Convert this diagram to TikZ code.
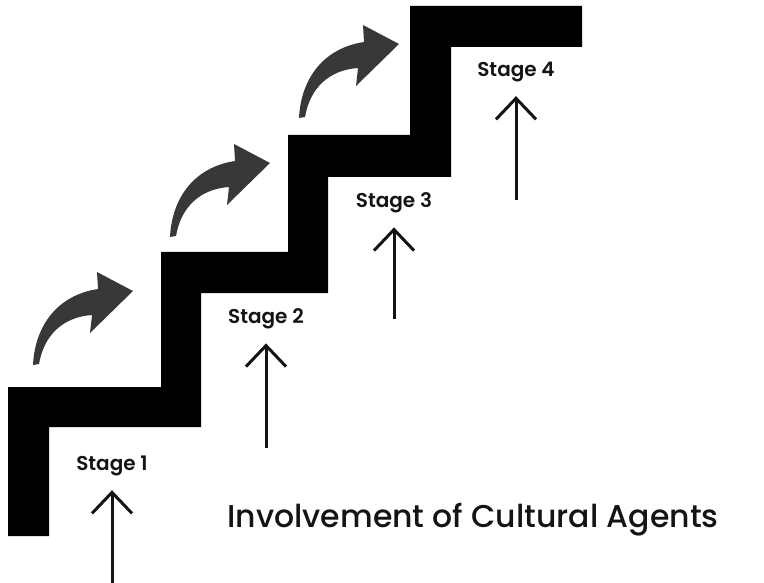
\documentclass[tikz,border=0pt]{standalone}
\usepackage{fontspec}
\setmainfont{Poppins}
\newfontfamily\stagefont{Poppins SemiBold}
\newfontfamily\titlefont{Poppins Medium}
\usetikzlibrary{arrows.meta}
\definecolor{curvegray}{HTML}{383838}
\definecolor{inkblack}{HTML}{141414}
\tikzset{every picture/.style={>={Straight Barb[length=21pt,width=40pt]}},
  stage/.style={font=\stagefont\fontsize{20}{22}\selectfont,text=inkblack,inner sep=0pt},
  rise/.style={->,line width=3pt,draw=inkblack,shorten >=14pt},
  bend/.pic={\fill[curvegray] (0,0) .. controls (2,-40) and (25,-70) .. (65,-76)
    -- (64,-93) -- (100,-74) -- (57,-32) -- (59,-50)
    .. controls (30,-48) and (11,-30) .. (6,-1) -- cycle;}}

\begin{document}
\begin{tikzpicture}[x=1pt,y=-1pt]
  \useasboundingbox (0,0) rectangle (764,583);
  \fill[black] (8,536) -- (8,387) -- (161,387) -- (161,252) -- (288,252) -- (288,135)
    -- (410,135) -- (410,6) -- (582,6) -- (582,47) -- (451,47) -- (451,177)
    -- (328,177) -- (328,293) -- (201,293) -- (201,427) -- (49,427) -- (49,536) -- cycle;
  \pic at (33,365) {bend};
  \pic at (170,237) {bend};
  \pic at (299,118) {bend};
  \node (s1) [stage] at (112,466) {Stage 1};
  \node (s2) [stage] at (266,319) {Stage 2};
  \node (s3) [stage] at (394,203) {Stage 3};
  \node (s4) [stage] at (516,72) {Stage 4};
  \coordinate (b1) at (112,583);
  \coordinate (b2) at (266,448);
  \coordinate (b3) at (394,319);
  \coordinate (b4) at (516,200);
  \draw [rise] (b1) to (s1);
  \draw [rise] (b2) to (s2);
  \draw [rise] (b3) to (s3);
  \draw [rise] (b4) to (s4);
  \node (title) [anchor=base,font=\titlefont\fontsize{31.5}{34}\selectfont,text=inkblack]
    at (473,527) {Involvement of Cultural Agents};
\end{tikzpicture}
\end{document}
